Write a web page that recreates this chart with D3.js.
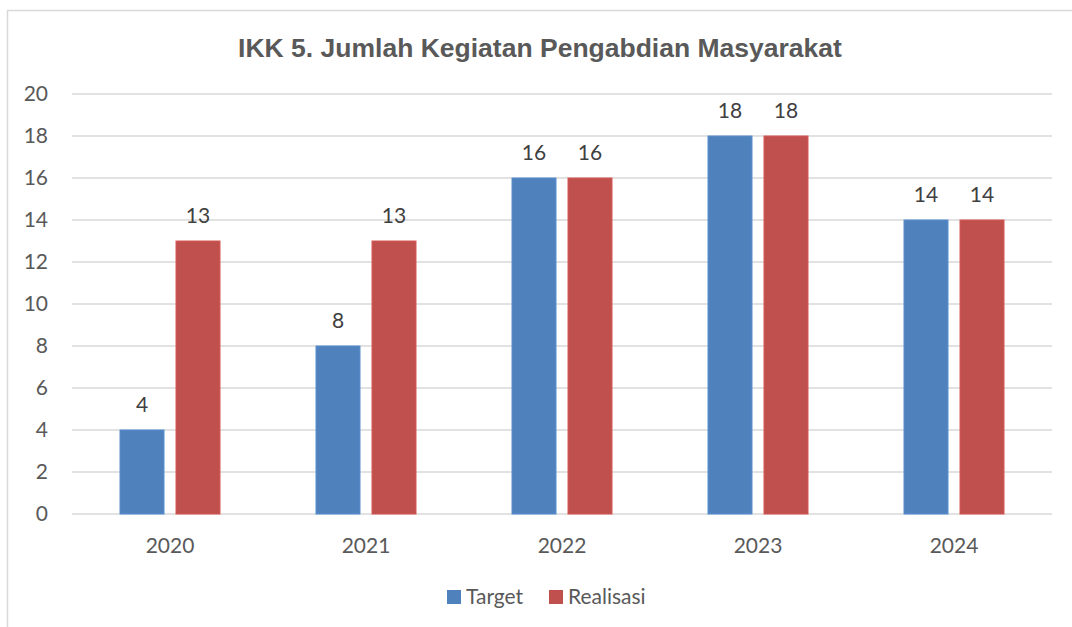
<!DOCTYPE html>
<html><head><meta charset="utf-8">
<script src="https://cdn.jsdelivr.net/npm/d3@7"></script>
<style>body{margin:0;background:#fff}svg{display:block}</style>
</head><body><svg id="c" width="1072" height="627"></svg>
<script>
const categories = ["2020","2021","2022","2023","2024"];
const seriesNames = ["Target","Realisasi"];
const target = [4,8,16,18,14];
const realisasi = [13,13,16,18,14];
const yTicks = [0,2,4,6,8,10,12,14,16,18,20];
const colors = ["#4f81bd","#c0504d"];
const title = "IKK 5. Jumlah Kegiatan Pengabdian Masyarakat";

const svg = d3.select("#c");
const font = "Lato, 'Open Sans', sans-serif";
const fs = 21;
// chart border
svg.append("rect").attr("x",7.5).attr("y",10.5).attr("width",1080).attr("height",640)
  .attr("fill","#fff").attr("stroke","#d9d9d9").attr("stroke-width",1.5);

const x0 = d3.scaleBand().domain(categories).range([72,1052]);
const y = d3.scaleLinear().domain([0,20]).range([514,94]);
const barW = 44, gap = 12;

svg.append("text").attr("x",540).attr("y",57).attr("text-anchor","middle")
  .attr("font-family","Arial, 'Liberation Sans', sans-serif").attr("font-weight","bold")
  .attr("font-size",26.5).attr("fill","#595959").text(title);

const g = svg.append("g");
g.selectAll("line.grid").data(yTicks).join("line")
  .attr("x1",72).attr("x2",1052).attr("y1",d=>y(d)).attr("y2",d=>y(d))
  .attr("stroke","#d9d9d9").attr("stroke-width",1.5);

g.selectAll("text.yt").data(yTicks).join("text")
  .attr("x",48).attr("y",d=>y(d)).attr("dy","0.35em").attr("text-anchor","end")
  .attr("font-family",font).attr("font-size",fs).attr("fill","#595959").text(d=>d);

g.selectAll("text.xt").data(categories).join("text")
  .attr("x",d=>x0(d)+x0.bandwidth()/2).attr("y",546).attr("dy","0.35em").attr("text-anchor","middle")
  .attr("font-family",font).attr("font-size",fs).attr("fill","#595959").text(d=>d);

const series = [target, realisasi];
series.forEach((vals,si)=>{
  const off = si===0 ? -(gap/2+barW) : gap/2;
  const data = categories.map((c,i)=>({c,v:vals[i]}));
  g.selectAll(null).data(data).join("rect")
    .attr("x",d=>x0(d.c)+x0.bandwidth()/2+off).attr("width",barW)
    .attr("y",d=>y(d.v)).attr("height",d=>y(0)-y(d.v))
    .attr("fill",colors[si]).attr("stroke",d3.color(colors[si]).brighter(0.3)).attr("stroke-width",1);
  g.selectAll(null).data(data).join("text")
    .attr("x",d=>x0(d.c)+x0.bandwidth()/2+off+barW/2).attr("y",d=>y(d.v)-25).attr("dy","0.35em")
    .attr("text-anchor","middle").attr("font-family",font).attr("font-size",fs).attr("fill","#404040")
    .text(d=>d.v);
});

// legend
const leg = svg.append("g");
const legX = [447,549];
seriesNames.forEach((n,i)=>{
  leg.append("rect").attr("x",legX[i]).attr("y",590).attr("width",14).attr("height",14).attr("fill",colors[i]);
  leg.append("text").attr("x",legX[i]+19).attr("y",597).attr("dy","0.35em")
    .attr("font-family",font).attr("font-size",fs).attr("fill","#595959").text(n);
});
</script></body></html>
